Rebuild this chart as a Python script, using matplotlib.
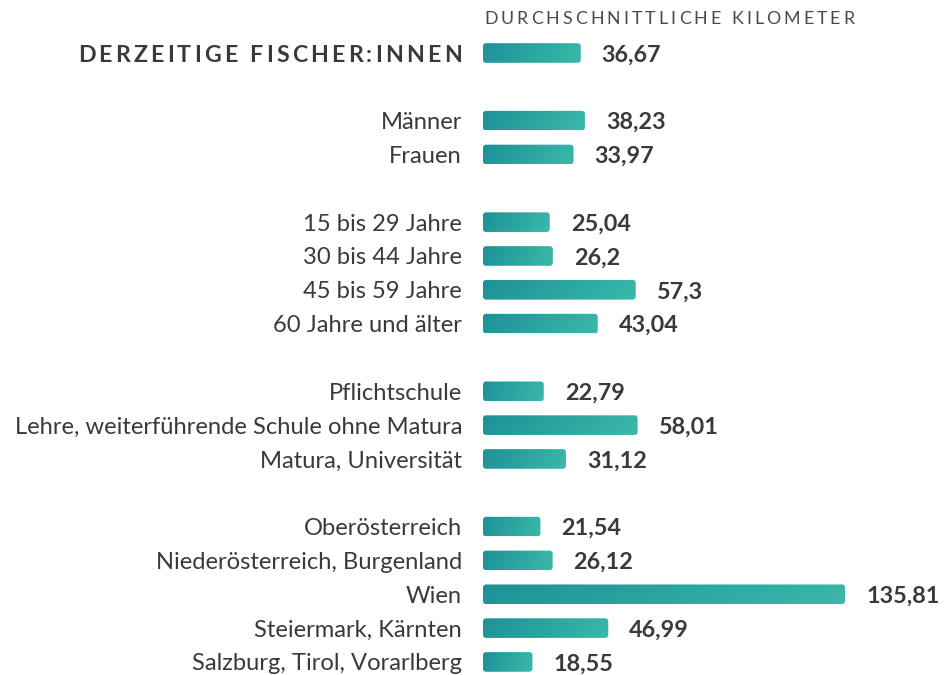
import numpy as np
import matplotlib.pyplot as plt
from matplotlib.patches import FancyBboxPatch
from matplotlib.colors import LinearSegmentedColormap

plt.rcParams['font.family'] = ['Lato', 'DejaVu Sans']

title = "DURCHSCHNITTLICHE KILOMETER"
groups = [
    ["DERZEITIGE FISCHER:INNEN"],
    ["Männer", "Frauen"],
    ["15 bis 29 Jahre", "30 bis 44 Jahre", "45 bis 59 Jahre", "60 Jahre und älter"],
    ["Pflichtschule", "Lehre, weiterführende Schule ohne Matura", "Matura, Universität"],
    ["Oberösterreich", "Niederösterreich, Burgenland", "Wien", "Steiermark, Kärnten",
     "Salzburg, Tirol, Vorarlberg"],
]
values = [36.67,
          38.23, 33.97,
          25.04, 26.2, 57.3, 43.04,
          22.79, 58.01, 31.12,
          21.54, 26.12, 135.81, 46.99, 18.55]

W, H = 946, 675
fig = plt.figure(figsize=(W / 100, H / 100), dpi=100)
ax = fig.add_axes([0, 0, 1, 1])
ax.axis('off')

# pixel layout
x0 = 483
s = 362 / 135.81          # px per km
row = 33.83               # px per row
top = 53
bar_h = 0.58
rad = 3.0

labels, ypos = [], []
pos = 0
for g in groups:
    for lab in g:
        labels.append(lab)
        ypos.append(pos)
        pos += 1
    pos += 1
last = ypos[-1]

cmap = LinearSegmentedColormap.from_list('g', ['#1c9198', '#3bb9a9'])
gx, gy = np.meshgrid(np.linspace(0, 1, 200), np.linspace(0, 1, 20))
grad = 0.88 * gx + 0.12 * gy

asp = s / row
for i, (lab, v, y) in enumerate(zip(labels, values, ypos)):
    patch = FancyBboxPatch((0, y - bar_h / 2), v, bar_h,
                           boxstyle=f"round,pad=0,rounding_size={rad / s}",
                           mutation_aspect=asp, facecolor='none', edgecolor='none')
    ax.add_patch(patch)
    im = ax.imshow(grad, cmap=cmap, extent=[0, v, y + bar_h / 2, y - bar_h / 2],
                   aspect='auto', interpolation='bilinear')
    im.set_clip_path(patch)
    ax.text(v + 21 / s, y, str(v).replace('.', ','), ha='left', va='center_baseline',
            fontsize=16.8, fontweight='bold', color='#3a3a3a')
    if i > 0:
        ax.text(-21 / s, y, lab, ha='right', va='center_baseline',
                fontsize=17.15, color='#3a3a3a')

ax.set_xlim(-x0 / s, (W - x0) / s)
ax.set_ylim(last + (H - (top + last * row)) / row, -top / row)

renderer = fig.canvas.get_renderer()


def char_w(ch, **kw):
    t1 = fig.text(0, 0, 'x' + ch + 'x', **kw)
    t2 = fig.text(0, 0, 'xx', **kw)
    w = t1.get_window_extent(renderer).width - t2.get_window_extent(renderer).width
    t1.remove()
    t2.remove()
    return w


def tracked(text, xpx, ypx, track, ha='left', **kw):
    ws = [char_w(c, **kw) for c in text]
    total = sum(ws) + track * (len(text) - 1)
    x = xpx if ha == 'left' else xpx - total
    for c, w in zip(text, ws):
        fig.text(x / W, 1 - ypx / H, c, ha='left', va='center_baseline', **kw)
        x += w + track


tracked(title, 484, 18, 3.05, fontsize=12.8, color='#4a4a4a')
tracked(labels[0], 462, 53, 3.2, ha='right', fontsize=16.7, fontweight='bold', color='#3a3a3a')

fig.savefig('out.png', dpi=100)
